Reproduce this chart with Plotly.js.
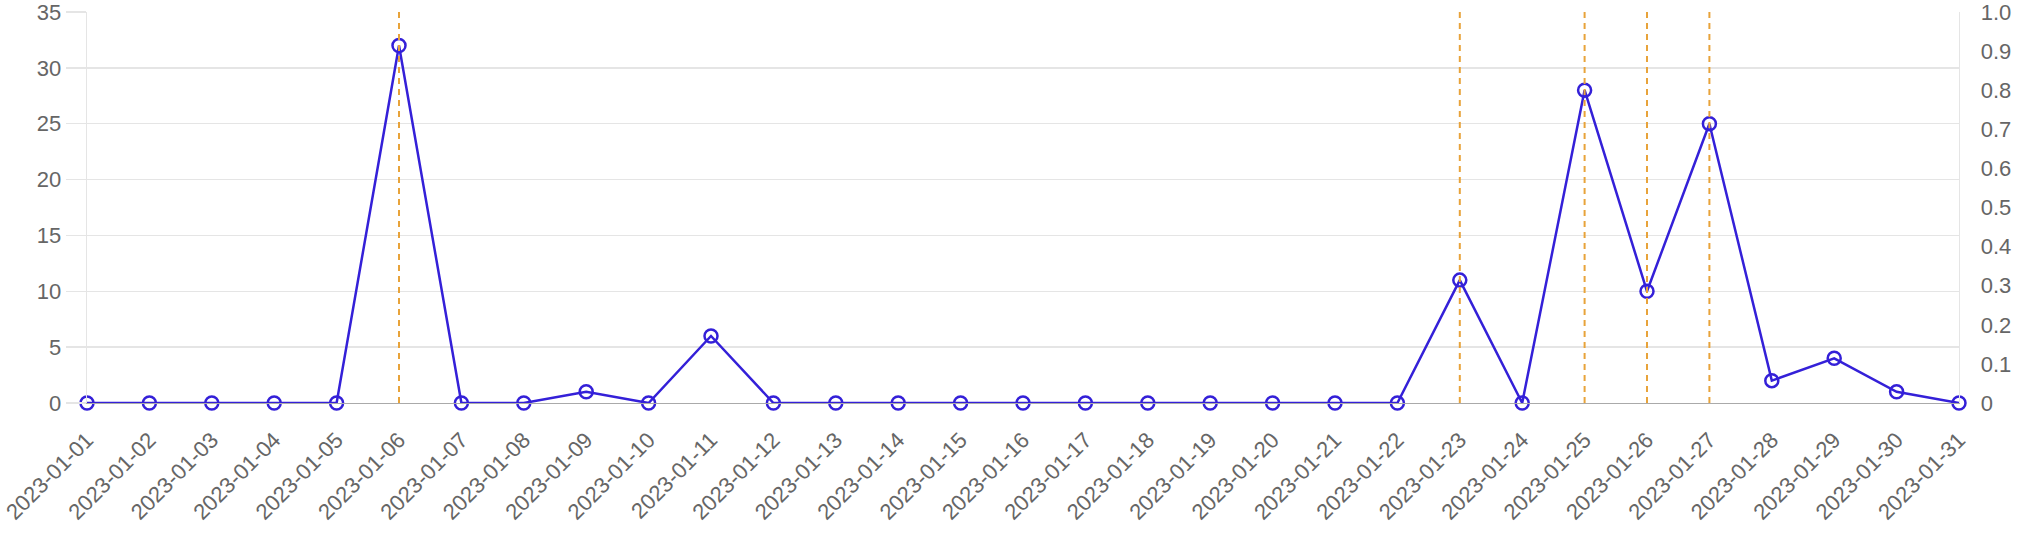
<!DOCTYPE html>
<html>
<head>
<meta charset="utf-8">
<script src="https://cdn.plot.ly/plotly-3.0.1.min.js"></script>
<style>
  html, body { margin: 0; padding: 0; background: #fff; }
  #chart { width: 2024px; height: 560px; }
</style>
</head>
<body>
<div id="chart"></div>
<script>
const dates = [
  "2023-01-01","2023-01-02","2023-01-03","2023-01-04","2023-01-05","2023-01-06",
  "2023-01-07","2023-01-08","2023-01-09","2023-01-10","2023-01-11","2023-01-12",
  "2023-01-13","2023-01-14","2023-01-15","2023-01-16","2023-01-17","2023-01-18",
  "2023-01-19","2023-01-20","2023-01-21","2023-01-22","2023-01-23","2023-01-24",
  "2023-01-25","2023-01-26","2023-01-27","2023-01-28","2023-01-29","2023-01-30",
  "2023-01-31"
];
const counts = [0,0,0,0,0,32,0,0,1,0,6,0,0,0,0,0,0,0,0,0,0,0,11,0,28,10,25,2,4,1,0];
const eventDates = ["2023-01-06","2023-01-23","2023-01-25","2023-01-26","2023-01-27"];
const leftTicks = [0,5,10,15,20,25,30,35];
const rightTickVals = [0,0.1,0.2,0.3,0.4,0.5,0.6,0.7,0.8,0.9,1.0];
const rightTickText = ["0","0.1","0.2","0.3","0.4","0.5","0.6","0.7","0.8","0.9","1.0"];

const font = {family: "Liberation Sans, Arial, Helvetica, sans-serif", size: 22, color: "#666666"};
const gridColor = "#e5e5e5";

const trace = {
  x: dates,
  y: counts,
  type: "scatter",
  mode: "lines+markers",
  line: {color: "#3420d8", width: 2.5},
  marker: {symbol: "circle-open", size: 13, color: "#3420d8", line: {width: 2.5, color: "#3420d8"}},
  hoverinfo: "x+y",
  cliponaxis: false
};

// empty trace so the right-hand axis is drawn
const rightAxisTrace = {
  x: [], y: [], type: "scatter", mode: "lines", yaxis: "y2", showlegend: false, hoverinfo: "skip"
};

const shapes = eventDates.map(d => ({
  type: "line",
  xref: "x", yref: "paper",
  x0: d, x1: d, y0: 0, y1: 1,
  line: {color: "#e8a33a", width: 2, dash: "6px,5px"},
  layer: "above"
}));

const layout = {
  width: 2024,
  height: 560,
  margin: {l: 87, r: 65, t: 12, b: 157},
  paper_bgcolor: "#ffffff",
  plot_bgcolor: "#ffffff",
  showlegend: false,
  font: font,
  xaxis: {
    type: "category",
    range: [0, dates.length - 1],
    tickangle: -45,
    showgrid: false,
    zeroline: false,
    showline: true,
    linecolor: "#aaaaaa",
    linewidth: 1.3,
    ticks: "outside",
    ticklen: 14,
    tickcolor: "rgba(0,0,0,0)",
    tickfont: font,
    ticklabeloverflow: "allow"
  },
  yaxis: {
    range: [0, 35],
    tickvals: leftTicks,
    showgrid: true,
    gridcolor: gridColor,
    gridwidth: 1.3,
    zeroline: false,
    showline: true,
    linecolor: gridColor,
    linewidth: 1.3,
    ticks: "outside",
    ticklen: 20,
    tickcolor: gridColor,
    tickwidth: 1.3,
    tickfont: font,
    ticklabeloverflow: "allow"
  },
  yaxis2: {
    overlaying: "y",
    side: "right",
    anchor: "x",
    range: [0, 1],
    tickvals: rightTickVals,
    ticktext: rightTickText,
    showgrid: false,
    zeroline: false,
    showline: true,
    linecolor: gridColor,
    linewidth: 1.3,
    ticks: "outside",
    ticklen: 16,
    tickcolor: "rgba(0,0,0,0)",
    tickfont: font,
    ticklabeloverflow: "allow"
  },
  shapes: shapes
};

Plotly.newPlot("chart", [trace, rightAxisTrace], layout, {displayModeBar: false, staticPlot: true});
</script>
</body>
</html>
